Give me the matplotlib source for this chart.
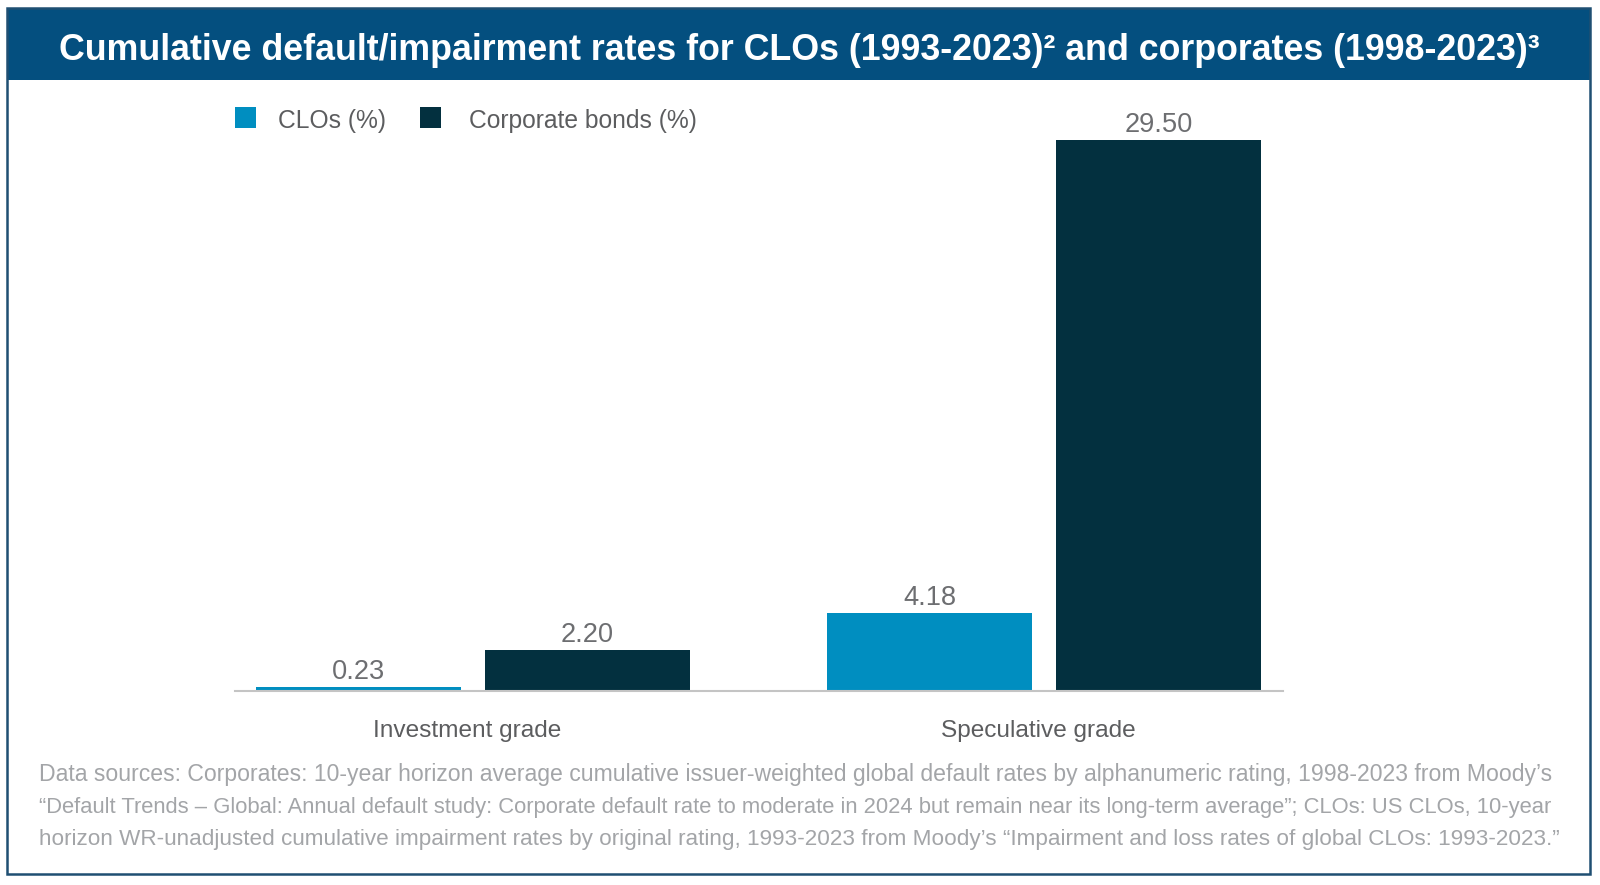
import matplotlib
matplotlib.use("Agg")
import matplotlib.pyplot as plt
from matplotlib.patches import Rectangle
from matplotlib import font_manager as fm

categories = ["Investment grade", "Speculative grade"]
series_names = ["CLOs (%)", "Corporate bonds (%)"]
clo_values = [0.23, 4.18]
corp_values = [2.20, 29.50]
value_labels_clo = ["0.23", "4.18"]
value_labels_corp = ["2.20", "29.50"]
title_text = "Cumulative default/impairment rates for CLOs (1993-2023)\u00b2 and corporates (1998-2023)\u00b3"
footnote_lines = [
    "Data sources: Corporates: 10-year horizon average cumulative issuer-weighted global default rates by alphanumeric rating, 1998-2023 from Moody\u2019s",
    "\u201cDefault Trends \u2013 Global: Annual default study: Corporate default rate to moderate in 2024 but remain near its long-term average\u201d; CLOs: US CLOs, 10-year",
    "horizon WR-unadjusted cumulative impairment rates by original rating, 1993-2023 from Moody\u2019s \u201cImpairment and loss rates of global CLOs: 1993-2023.\u201d",
]

W, H = 1600, 885
fig = plt.figure(figsize=(W / 100, H / 100), dpi=100)
fig.patch.set_facecolor("white")

avail = {f.name for f in fm.fontManager.ttflist}
narrow = "Liberation Sans Narrow" if "Liberation Sans Narrow" in avail else "Liberation Sans"
FONT = [narrow, "DejaVu Sans"]

renderer = fig.canvas.get_renderer()

def px(x, y):
    return x / W, 1 - y / H

def fit(t, target_w):
    s = t.get_fontsize()
    w = t.get_window_extent(renderer).width
    t.set_fontsize(s * target_w / w)

C_CLO = "#008ec0"
C_CORP = "#03303f"
C_BAR = "#044f7f"
C_TXT = "#5c5d5f"
C_VAL = "#6d6e71"
C_FOOT = "#a3a5a8"

# frame and title bar
fig.add_artist(Rectangle(px(7, 80), (1590 - 7) / W, (80 - 8) / H, transform=fig.transFigure,
                         facecolor=C_BAR, edgecolor="none", zorder=0))
fig.add_artist(Rectangle(px(7, 874), (1590 - 7) / W, (874 - 8) / H, transform=fig.transFigure,
                         facecolor="none", edgecolor="#1f4f72", lw=1.8, zorder=5))

t = fig.text(*px(799, 50), title_text, color="white", fontsize=26, fontweight="bold",
             ha="center", va="center", family=FONT)
fit(t, 1480)

# axes
group_px = [473, 1044]
unit = group_px[1] - group_px[0]
x_left, x_right = 235, 1283
y_base, y_top = 691, 100
ppu = (691 - 140) / corp_values[1]
ax = fig.add_axes([x_left / W, 1 - y_base / H, (x_right - x_left) / W, (y_base - y_top) / H])
ax.set_xlim((x_left - group_px[0]) / unit, (x_right - group_px[0]) / unit)
ax.set_ylim(0, (y_base - y_top) / ppu)
ax.patch.set_alpha(0)
for s in ["top", "right", "left"]:
    ax.spines[s].set_visible(False)
ax.spines["bottom"].set_color("#c4c4c4")
ax.spines["bottom"].set_linewidth(1.5)
ax.set_yticks([])
ax.set_xticks([])

xs = list(range(len(categories)))
bw = 205 / unit
off = 229 / 2 / unit
b1 = ax.bar([x - off for x in xs], clo_values, width=bw, color=C_CLO, label=series_names[0])
b2 = ax.bar([x + off for x in xs], corp_values, width=bw, color=C_CORP, label=series_names[1])

val_size = 18
for bars, labs in ((b1, value_labels_clo), (b2, value_labels_corp)):
    for r, lab in zip(bars, labs):
        vt = ax.annotate(lab, (r.get_x() + r.get_width() / 2, r.get_height()), xytext=(0, 2),
                         textcoords="offset pixels", ha="center", va="bottom", color=C_VAL,
                         fontsize=val_size, family=FONT, clip_on=False)
        if lab == value_labels_corp[1]:
            fit(vt, 68)
            val_size = vt.get_fontsize()
for txt in ax.texts:
    txt.set_fontsize(val_size)

# category labels
cat_size = None
for x, c in zip(xs, categories):
    ct = ax.annotate(c, (x, 0), xycoords=("data", "axes fraction"), xytext=(-6, -(731 - y_base)),
                     textcoords="offset pixels", ha="center", va="center",
                     color=C_TXT, fontsize=18, family=FONT, annotation_clip=False)
    if cat_size is None:
        fit(ct, 188)
        cat_size = ct.get_fontsize()
    ct.set_fontsize(cat_size)

# legend (manual)
leg_items = [(235, 278, series_names[0], C_CLO), (420, 469, series_names[1], C_CORP)]
for sx, tx, name, col in leg_items:
    fig.add_artist(Rectangle(px(sx, 128), 21 / W, 21 / H, transform=fig.transFigure,
                             facecolor=col, edgecolor="none"))
    lt = fig.text(*px(tx, 121), name, color=C_TXT, fontsize=16, ha="left", va="center", family=FONT)
    lt._name = name
lts = [tt for tt in fig.texts if getattr(tt, "_name", None) == series_names[1]]
fit(lts[0], 228)
leg_size = lts[0].get_fontsize()
for tt in fig.texts:
    if getattr(tt, "_name", None) is not None:
        tt.set_fontsize(leg_size)

# footnote (justified look: each line fitted to the same width)
for i, line in enumerate(footnote_lines):
    ft = fig.text(*px(39, 775 + i * 32.5), line, color=C_FOOT, fontsize=16, ha="left",
                  va="center", family=FONT)
    fit(ft, 1520 if i < 2 else 1516)

fig.savefig("out.png", dpi=100, facecolor="white")
